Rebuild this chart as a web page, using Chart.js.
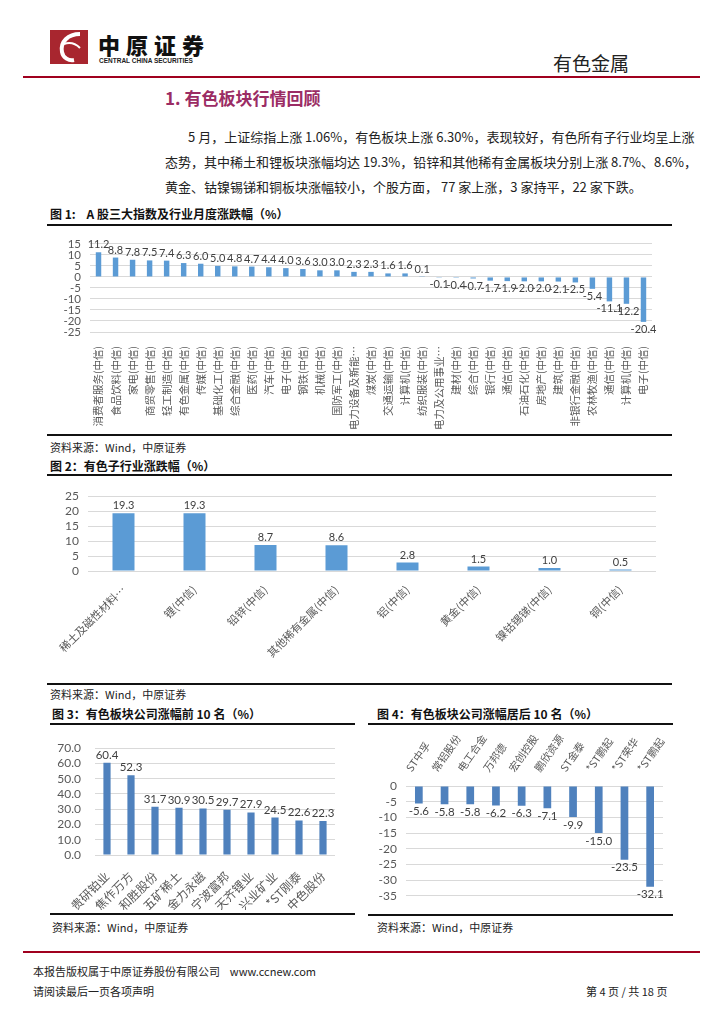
<!DOCTYPE html>
<html>
<head>
<meta charset="utf-8">
<script src="https://cdn.jsdelivr.net/npm/chart.js@4.4.1/dist/chart.umd.min.js"></script>
<style>
  body { margin: 0; background: #fff; font-family: "Noto Sans CJK SC", "Noto Sans", sans-serif; color: #222; }
  #page { position: relative; width: 724px; height: 1024px; overflow: hidden; }
  .abs { position: absolute; white-space: nowrap; }
  .hr { position: absolute; height: 0; }
  .figtitle { font-size: 12px; font-weight: bold; line-height: 14px; color: #111; }
  .src { font-size: 11px; line-height: 13px; color: #222; }
  .para { font-size: 13px; line-height: 15px; color: #222; }
  canvas { position: absolute; }
</style>
</head>
<body>
<div id="page">
  <!-- header -->
  <svg class="abs" style="left:50px;top:30px" width="38" height="34">
    <rect width="38" height="34" fill="#a8262f"/>
    <path d="M30 4 C18 4 10 12 12 22 C13 28 19 31 24 30" stroke="#fff" stroke-width="4" fill="none"/>
    <path d="M14 14 C20 12 26 14 30 18" stroke="#fff" stroke-width="2" fill="none"/>
  </svg>
  <div class="abs" style="left:98px;top:32px;font-size:22px;line-height:24px;font-weight:900;letter-spacing:6px;color:#111">中原证券</div>
  <div class="abs" style="left:99px;top:57px;font-size:6.5px;line-height:7px;font-weight:bold;color:#222;font-family:'Liberation Sans'">CENTRAL CHINA SECURITIES</div>
  <div class="abs" style="left:553px;top:52px;font-size:19px;line-height:21px;color:#222">有色金属</div>
  <div class="hr" style="left:23px;top:76px;width:677px;border-top:2px solid #a0001e"></div>

  <div class="abs" style="left:165px;top:88px;font-size:17px;line-height:20px;font-weight:bold;color:#9b2c64">1. 有色板块行情回顾</div>

  <div class="abs para" style="left:188px;top:129px">5 月，上证综指上涨 1.06%，有色板块上涨 6.30%，表现较好，有色所有子行业均呈上涨</div>
  <div class="abs para" style="left:165px;top:154px">态势，其中稀土和锂板块涨幅均达 19.3%，铅锌和其他稀有金属板块分别上涨 8.7%、8.6%，</div>
  <div class="abs para" style="left:165px;top:179px">黄金、钴镍锡锑和铜板块涨幅较小，个股方面， 77 家上涨，3 家持平，22 家下跌。</div>

  <!-- figure 1 -->
  <div class="abs figtitle" style="left:50px;top:207px">图 1:&nbsp;&nbsp;&nbsp; A 股三大指数及行业月度涨跌幅（%）</div>
  <div class="hr" style="left:47px;top:224px;width:625px;border-top:2px solid #111"></div>
  <canvas id="chart1" width="625" height="205" style="left:45px;top:228px"></canvas>
  <div class="hr" style="left:47px;top:434px;width:625px;border-top:2px solid #111"></div>
  <div class="abs src" style="left:50px;top:441px">资料来源：Wind，中原证券</div>

  <!-- figure 2 -->
  <div class="abs figtitle" style="left:50px;top:459px">图 2：有色子行业涨跌幅（%）</div>
  <div class="hr" style="left:47px;top:474px;width:625px;border-top:2px solid #111"></div>
  <canvas id="chart2" width="625" height="200" style="left:45px;top:480px"></canvas>
  <div class="hr" style="left:47px;top:683px;width:625px;border-top:2px solid #111"></div>
  <div class="abs src" style="left:50px;top:688px">资料来源：Wind，中原证券</div>

  <!-- figure 3 -->
  <div class="abs figtitle" style="left:52px;top:707px">图 3：有色板块公司涨幅前 10 名（%）</div>
  <div class="hr" style="left:50px;top:723px;width:305px;border-top:2px solid #111"></div>
  <canvas id="chart3" width="310" height="183" style="left:45px;top:727px"></canvas>
  <div class="hr" style="left:50px;top:913px;width:305px;border-top:2px solid #111"></div>
  <div class="abs src" style="left:52px;top:921px">资料来源：Wind，中原证券</div>

  <!-- figure 4 -->
  <div class="abs figtitle" style="left:377px;top:707px">图 4：有色板块公司涨幅居后 10 名（%）</div>
  <div class="hr" style="left:368px;top:723px;width:305px;border-top:2px solid #111"></div>
  <canvas id="chart4" width="325" height="185" style="left:365px;top:727px"></canvas>
  <div class="hr" style="left:368px;top:914px;width:305px;border-top:2px solid #111"></div>
  <div class="abs src" style="left:377px;top:921px">资料来源：Wind，中原证券</div>

  <!-- footer -->
  <div class="hr" style="left:23px;top:951px;width:677px;border-top:2px solid #a0001e"></div>
  <div class="abs src" style="left:33px;top:965px">本报告版权属于中原证券股份有限公司&nbsp;&nbsp;&nbsp; www.ccnew.com</div>
  <div class="abs src" style="left:33px;top:985px">请阅读最后一页各项声明</div>
  <div class="abs src" style="left:586px;top:985px">第 4 页 / 共 18 页</div>
</div>

<script>
// 图1 数据
const industryLabels = ['消费者服务(中信)', '食品饮料(中信)', '家电(中信)', '商贸零售(中信)', '轻工制造(中信)',
  '有色金属(中信)', '传媒(中信)', '基础化工(中信)', '综合金融(中信)', '医药(中信)', '汽车(中信)', '电子(中信)',
  '钢铁(中信)', '机械(中信)', '国防军工(中信)', '电力设备及新能…', '煤炭(中信)', '交通运输(中信)', '计算机(中信)',
  '纺织服装(中信)', '电力及公用事业…', '建材(中信)', '综合(中信)', '银行(中信)', '通信(中信)', '石油石化(中信)',
  '房地产(中信)', '建筑(中信)', '非银行金融(中信)', '农林牧渔(中信)', '通信(中信)', '计算机(中信)', '电子(中信)'];
const industryChange = [11.2, 8.8, 7.8, 7.5, 7.4, 6.3, 6.0, 5.0, 4.8, 4.7, 4.4, 4.0, 3.6, 3.0, 3.0, 2.3, 2.3, 1.6, 1.6,
  0.1, -0.1, -0.4, -0.7, -1.7, -1.9, -2.0, -2.0, -2.1, -2.5, -5.4, -11.1, -12.2, -20.4];

// 图2 数据
const subLabels = ['稀土及磁性材料…', '锂(中信)', '铅锌(中信)', '其他稀有金属(中信)', '铝(中信)', '黄金(中信)', '镍钴锡锑(中信)', '铜(中信)'];
const subChange = [19.3, 19.3, 8.7, 8.6, 2.8, 1.5, 1.0, 0.5];

// 图3 数据
const topLabels = ['贵研铂业', '焦作万方', '和胜股份', '五矿稀土', '金力永磁', '宁波富邦', '天齐锂业', '兴业矿业', '*ST刚泰', '中色股份'];
const topChange = [60.4, 52.3, 31.7, 30.9, 30.5, 29.7, 27.9, 24.5, 22.6, 22.3];

// 图4 数据
const bottomLabels = ['ST中孚', '常铝股份', '电工合金', '万邦德', '宏创控股', '鹏欣资源', 'ST金泰', '*ST鹏起', '*ST荣华', '*ST鹏起'];
const bottomChange = [-5.6, -5.8, -5.8, -6.2, -6.3, -7.1, -9.9, -15.0, -23.5, -32.1];

const numFont = 'Lato, "Noto Sans CJK SC", sans-serif';
const cjkFont = '"Noto Sans CJK SC", sans-serif';

// 柱顶数值标签
const valueLabels = {
  id: 'valueLabels',
  afterDatasetsDraw(chart, args, opts) {
    const ctx = chart.ctx;
    const meta = chart.getDatasetMeta(0);
    const data = chart.data.datasets[0].data;
    ctx.save();
    ctx.font = opts.size + 'px ' + numFont;
    ctx.fillStyle = '#404040';
    ctx.textAlign = 'center';
    meta.data.forEach((bar, i) => {
      const v = data[i];
      if (v >= 0) {
        ctx.textBaseline = 'bottom';
        ctx.fillText(v.toFixed(1), bar.x, bar.y - opts.offset);
      } else {
        ctx.textBaseline = 'top';
        ctx.fillText(v.toFixed(1), bar.x, bar.y + opts.offset);
      }
    });
    ctx.restore();
  }
};

function makeChart(id, labels, values, cfg) {
  const ctx = document.getElementById(id).getContext('2d');
  return new Chart(ctx, {
    type: 'bar',
    data: {
      labels: labels,
      datasets: [{
        data: values,
        backgroundColor: cfg.color,
        barPercentage: cfg.barPct,
        categoryPercentage: 1,
      }],
    },
    plugins: [valueLabels],
    options: {
      responsive: false,
      animation: false,
      devicePixelRatio: 1,
      layout: { padding: cfg.padding },
      plugins: {
        legend: { display: false },
        tooltip: { enabled: false },
        valueLabels: { size: cfg.labelSize, offset: 2 },
      },
      scales: {
        x: {
          position: cfg.xPos || 'bottom',
          grid: { display: false },
          border: { display: false },
          ticks: {
            autoSkip: false,
            minRotation: cfg.rot,
            maxRotation: cfg.rot,
            padding: cfg.xPad,
            color: '#595959',
            font: { size: cfg.xSize, family: cjkFont },
          },
          afterFit(scale) {
            scale.height = cfg.xHeight;
            scale.paddingLeft = 0;
            scale.paddingRight = 0;
          },
        },
        y: {
          min: cfg.min,
          max: cfg.max,
          grid: { color: '#d9d9d9', drawTicks: false },
          border: { display: false },
          ticks: {
            autoSkip: false,
            stepSize: cfg.step,
            padding: cfg.yPad,
            color: '#595959',
            font: { size: cfg.ySize, family: numFont },
            callback: cfg.yFmt || (v => v),
          },
          afterFit(scale) {
            scale.width = cfg.yWidth;
          },
        },
      },
    },
  });
}

makeChart('chart1', industryLabels, industryChange, {
  color: '#5b9bd5', barPct: 0.32, padding: { top: 13, right: 18, left: 0, bottom: 0 },
  labelSize: 11, rot: 90, xPad: 6, xSize: 10.5, xHeight: 101,
  min: -25, max: 15, step: 5, yPad: 9, ySize: 11.5, yWidth: 45,
});

makeChart('chart2', subLabels, subChange, {
  color: '#5b9bd5', barPct: 0.31, padding: { top: 12, right: 14, left: 0, bottom: 0 },
  labelSize: 11, rot: 45, xPad: 4, xSize: 11, xHeight: 109,
  min: 0, max: 25, step: 5, yPad: 9, ySize: 12, yWidth: 43,
});

makeChart('chart3', topLabels, topChange, {
  color: '#4f81bd', barPct: 0.3, padding: { top: 16, right: 20, left: 0, bottom: 0 },
  labelSize: 11.5, rot: 45, xPad: 6, xSize: 12, xHeight: 55,
  min: 0, max: 70, step: 10, yPad: 14, ySize: 12, yWidth: 50, yFmt: v => v.toFixed(1),
});

makeChart('chart4', bottomLabels, bottomChange, {
  color: '#4f81bd', barPct: 0.3, padding: { top: 0, right: 27, left: 0, bottom: 15 },
  labelSize: 11.5, rot: 55, xPad: 4, xSize: 10.5, xHeight: 59, xPos: 'top',
  min: -35, max: 0, step: 5, yPad: 9, ySize: 12, yWidth: 41,
});
</script>
</body>
</html>
